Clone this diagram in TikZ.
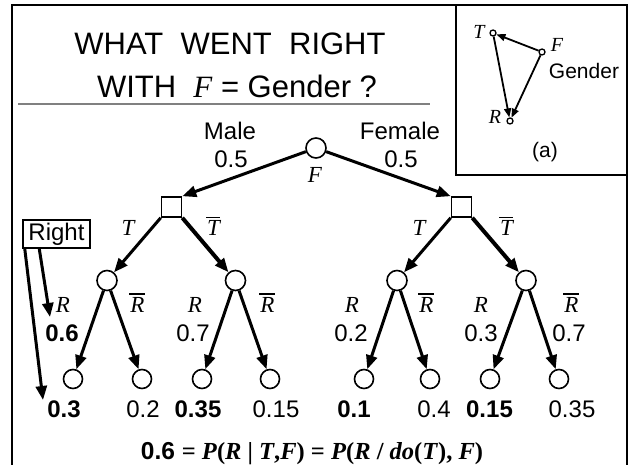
\documentclass[tikz,border=0pt]{standalone}
\usepackage{fontspec}
\setmainfont{Liberation Sans}
\newfontfamily\tms{Liberation Serif}
\usetikzlibrary{arrows.meta}
\newcommand\fs[1]{\fontsize{#1}{#1}\selectfont}
\newcommand\ov[1]{\leavevmode\vbox{\hrule height 1.6pt\kern 2.5pt\hbox{\kern1pt#1}}}
\tikzset{>={Triangle[length=14pt,width=11pt]},every node/.style={inner sep=0pt,font=\fs{24}},
chance/.style={circle,draw,line width=1.6pt,minimum size=20pt},leaf/.style={circle,draw,line width=1.6pt,minimum size=19pt},
choice/.style={rectangle,draw,line width=1.6pt,minimum size=20pt},dot/.style={circle,draw,line width=1.3pt,minimum size=6pt},
br/.style={line width=3pt,->},brb/.style={line width=4pt,->},lk/.style={line width=1.8pt,-{Triangle[length=9pt,width=7pt]}},
var/.style={anchor=base,font=\fs{23}\tms\itshape},num/.style={anchor=base},ivar/.style={font=\fs{20}\tms\itshape}}

\begin{document}
\begin{tikzpicture}[x=1pt,y=-1pt]
\useasboundingbox (0,0) rectangle (632,465);
% frame, inset box, title
\draw[line width=2pt] (12,465)--(12,5)--(627,5)--(627,465);
\draw[line width=2pt] (456,5)--(456,175)--(627,175);
\draw[gray,line width=1.3pt] (18,104)--(430,104);
\node[anchor=base,font=\fs{31}] (title1) at (230,55){WHAT~~WENT~~RIGHT};
\node[anchor=base,font=\fs{31}] (title2) at (237,98){WITH~~{\tms\itshape F} = Gender ?};
% (a) graph
\node[dot] (iT) at (493,33){};\node[dot] (iF) at (542,52){};\node[dot] (iR) at (510,121){};
\draw[lk] (iF)--(iT);\draw[lk] (iT)--(iR);\draw[lk] (iF)--(iR);
\node[ivar] (iTl) at (479,32){T};\node[ivar] (iFl) at (557,45){F};
\node[ivar] (iRl) at (495,117){R};\node[font=\fs{21}] (gen) at (584,71){Gender};
\node[font=\fs{21}] (cap) at (545,152){(a)};
% tree
\node[chance] (root) at (316,148){};
\node[choice] (sqL) at (171.5,207){};\node[choice] (sqR) at (461.5,207){};
\foreach \n/\x in {cL1/107,cL2/235.5,cR1/397,cR2/526}{\node[chance] (\n) at (\x,280.5){};}
\foreach \i/\x in {1/73,2/142,3/202,4/270,5/364,6/430,7/490,8/559}{\node[leaf] (l\i) at (\x,379){};}
\draw[br] (root)--(sqL.north east);\draw[br] (root)--(sqR.north west);
\draw[br] (sqL.south west)--(cL1);\draw[brb] (sqL.south east)--(cL2);
\draw[br] (sqR.south west)--(cR1);\draw[brb] (sqR.south east)--(cR2);
\foreach \a/\b/\c in {cL1/l1/l2,cL2/l3/l4,cR1/l5/l6,cR2/l7/l8}{\draw[br] (\a)--(\b);\draw[br] (\a)--(\c);}
% labels
\node[num] (male) at (230,139.5){Male};\node[num] (pm) at (231,168){0.5};
\node[num] (female) at (400,139.5){Female};\node[num] (pf) at (401,168){0.5};
\node[var] (rootl) at (315,183){F};
\foreach \x/\t in {128/T,213/\ov{T},419/T,506/\ov{T}}{\node[var] at (\x,236){\t};}
\foreach \x/\t in {63/R,137/\ov{R},195/R,267/\ov{R},352/R,426/\ov{R},481/R,571/\ov{R}}{\node[var] at (\x,312.5){\t};}
\foreach \x/\t in {62/\textbf{0.6},193/0.7,351/0.2,481/0.3,569/0.7}{\node[num] at (\x,341.5){\t};}
\foreach \x/\t in {64/\textbf{0.3},143/0.2,198/\textbf{0.35},276/0.15,354/\textbf{0.1},434/0.4,489.5/\textbf{0.15},572/0.35}{\node[num] at (\x,417){\t};}
% Right
\node[draw,line width=1.5pt,minimum width=67pt,minimum height=28pt] (rbox) at (56.5,234){Right};
\coordinate (rtip1) at (50,317);\coordinate (rtip2) at (43,400);
\draw[br] ([xshift=17pt]rbox.south west)--(rtip1);\draw[br] ([xshift=2.5pt]rbox.south west)--(rtip2);
\node[anchor=base,font=\fs{24.5}] (eq) at (312,459){\textbf{0.6} {\tms\bfseries = \textit{P}(\textit{R} | \textit{T},\textit{F}) = \textit{P}(\textit{R} / \textit{do}(\textit{T}), \textit{F})}};
\end{tikzpicture}
\end{document}
